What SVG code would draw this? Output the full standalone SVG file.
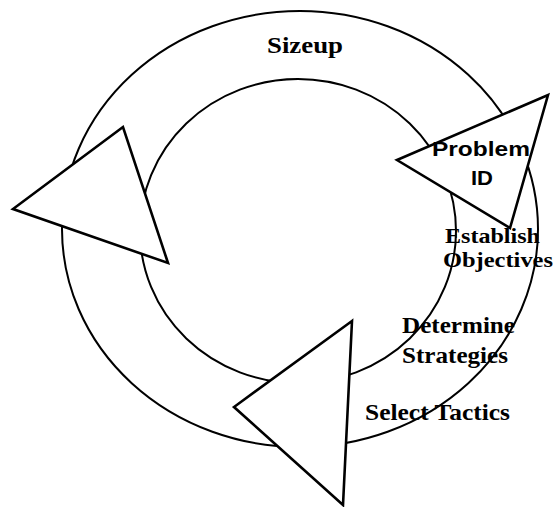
<svg xmlns="http://www.w3.org/2000/svg" width="557" height="507" viewBox="0 0 557 507">
  <style>
    .ring { fill: none; stroke: #000; stroke-width: 2; }
    .head { fill: #fff; stroke: #000; stroke-width: 2.6; stroke-linejoin: miter; }
    .serif { font-family: "Liberation Serif", "Times New Roman", serif; font-weight: bold; font-size: 23px; fill: #000; }
    .tight { font-size: 21px; }
    .sans { font-family: "Liberation Sans", Arial, sans-serif; font-weight: bold; font-size: 21px; fill: #000; }
  </style>
  <rect width="557" height="507" fill="#fff"/>

  <!-- the cycle: two concentric rings with open arrowheads on top -->
  <g id="connectors">
    <ellipse class="ring" cx="300" cy="229" rx="238" ry="218"/>
    <ellipse class="ring" cx="298" cy="231" rx="158" ry="152"/>
    <polygon class="head" points="397,160 548,95 510,228"/>
    <polygon class="head" points="123,127 13,209 168,263"/>
    <polygon class="head" points="352,321 234,407 343,505"/>
  </g>

  <g id="sizeup">
    <text class="serif" x="267" y="53" textLength="76" lengthAdjust="spacingAndGlyphs">Sizeup</text>
  </g>
  <g id="problem-id">
    <text class="sans" x="432" y="156" textLength="98" lengthAdjust="spacingAndGlyphs">Problem</text>
    <text class="sans" x="471" y="185" textLength="22" lengthAdjust="spacingAndGlyphs">ID</text>
  </g>
  <g id="establish-objectives">
    <text class="serif tight" x="445" y="243" textLength="95" lengthAdjust="spacingAndGlyphs">Establish</text>
    <text class="serif tight" x="443" y="267" textLength="110" lengthAdjust="spacingAndGlyphs">Objectives</text>
  </g>
  <g id="determine-strategies">
    <text class="serif" x="402" y="333" textLength="113" lengthAdjust="spacingAndGlyphs">Determine</text>
    <text class="serif" x="402" y="363" textLength="106" lengthAdjust="spacingAndGlyphs">Strategies</text>
  </g>
  <g id="select-tactics">
    <text class="serif" x="365" y="420" textLength="145" lengthAdjust="spacingAndGlyphs">Select Tactics</text>
  </g>
</svg>
